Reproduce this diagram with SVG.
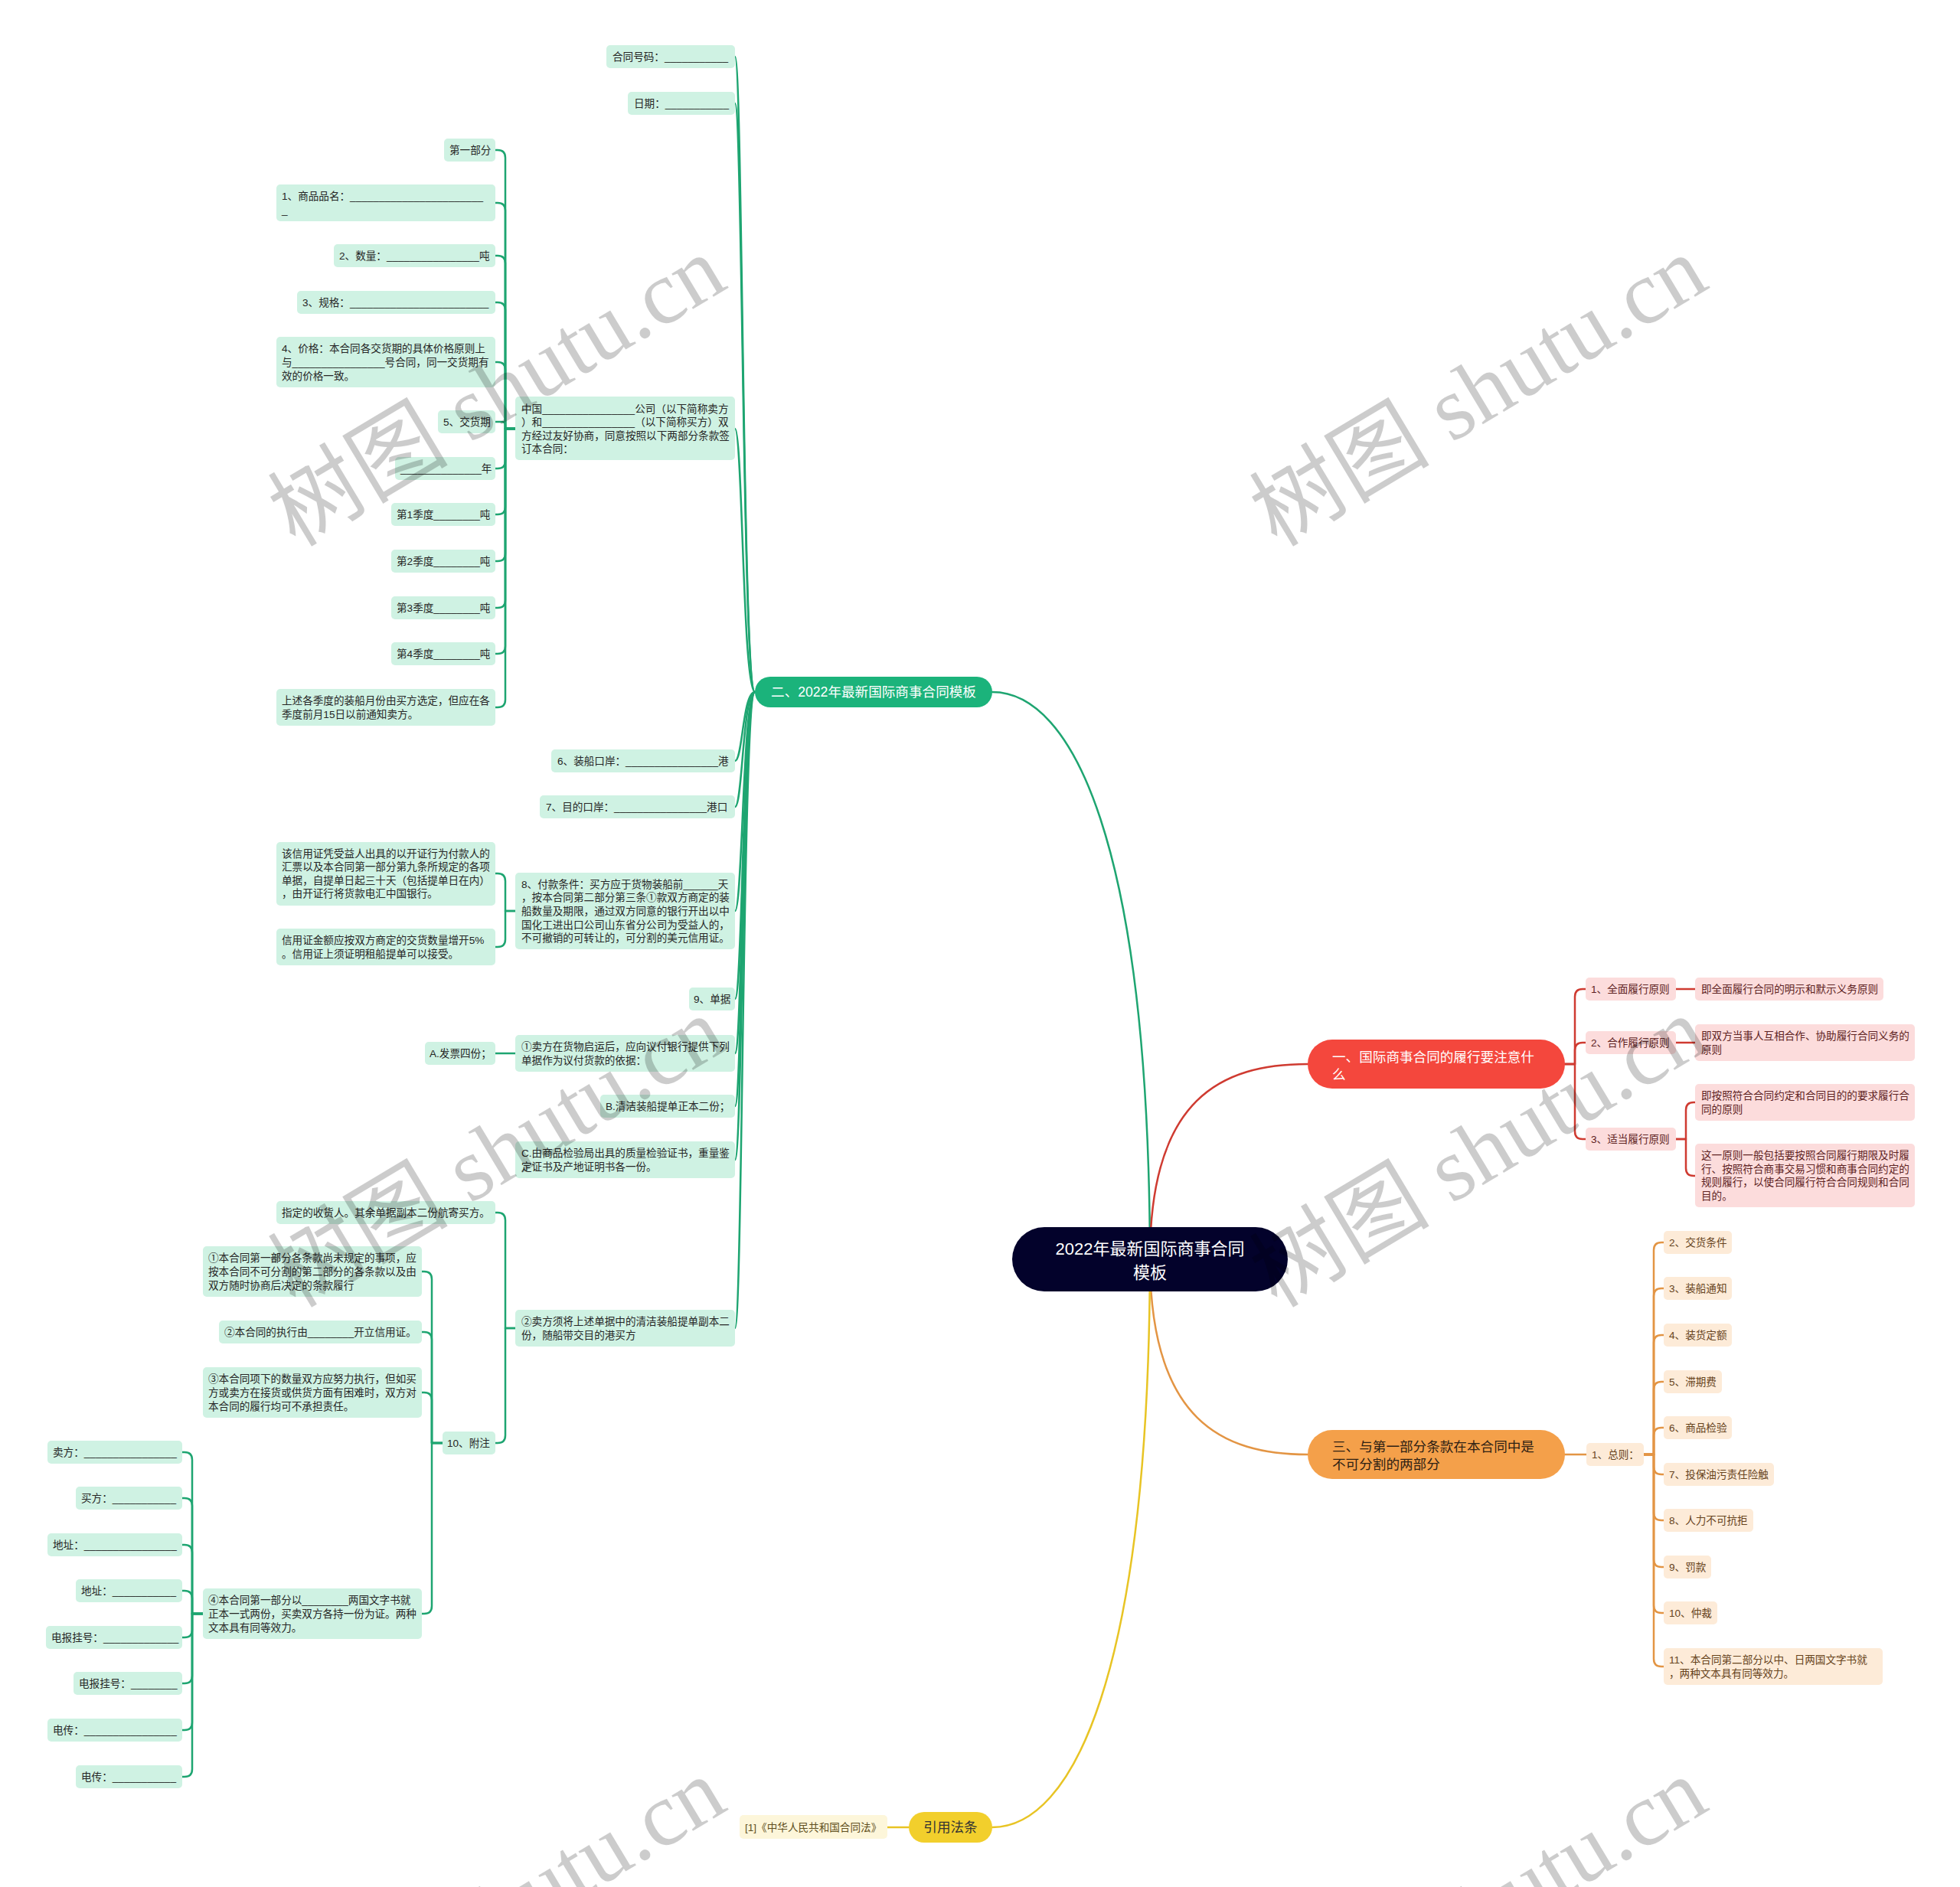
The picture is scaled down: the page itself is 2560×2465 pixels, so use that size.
<svg xmlns="http://www.w3.org/2000/svg" width="2560" height="2465" viewBox="0 0 2560 2465">
<style>
text{font-family:"Liberation Sans","Noto Sans CJK SC",sans-serif;font-size:13.6px}
.gn rect{fill:#cff2e3}
.gn text{fill:#262626}
.rn rect{fill:#fcdcdc}
.rn text{fill:#5e2323}
.on rect{fill:#fdebd8}
.on text{fill:#66431c}
.yn rect{fill:#fdf6da}
.yn text{fill:#5f4f20}
.main text{font-size:17.6px}
#connectors path{fill:none;stroke-linecap:round;stroke-linejoin:round}
.cg{stroke:#1ea571;stroke-width:2.5}
.cr{stroke:#cf3b31;stroke-width:2.5}
.co{stroke:#e39544;stroke-width:2.5}
.cy{stroke:#e8c424;stroke-width:2.5}
.wm{font-family:"Liberation Serif","Noto Sans CJK SC",serif;font-size:118px;fill:#000;fill-opacity:0.2}
</style>
<rect width="2560" height="2465" fill="#ffffff"/>

<g id="connectors">
<path class="cg" d="M1296 904C1400 904 1500 1100 1502 1640" stroke-width="2"/>
<path class="cr" d="M1708 1390C1595 1390 1503 1435 1502 1640" stroke-width="2"/>
<path class="co" d="M1502 1650C1504 1855 1596 1900 1708 1900" stroke-width="2"/>
<path class="cy" d="M1502 1650C1500 2190 1400 2387 1296 2387" stroke-width="2"/>
<path class="cy" d="M1187 2387H1159"/>
<path class="cg" d="M986 904C970 904 970 74 960 74"/>
<path class="cg" d="M986 904C970 904 970 135 960 135"/>
<path class="cg" d="M986 904C970 904 970 560 960 560"/>
<path class="cg" d="M986 904C970 904 970 994 960 994"/>
<path class="cg" d="M986 904C970 904 970 1054 960 1054"/>
<path class="cg" d="M986 904C970 904 970 1190 960 1190"/>
<path class="cg" d="M986 904C970 904 970 1305 960 1305"/>
<path class="cg" d="M986 904C970 904 970 1376 960 1376"/>
<path class="cg" d="M986 904C970 904 970 1445 960 1445"/>
<path class="cg" d="M986 904C970 904 970 1515 960 1515"/>
<path class="cg" d="M986 904C970 904 970 1735 960 1735"/>
<path class="cg" d="M673 560H660V206Q660 196 650 196H647"/>
<path class="cg" d="M673 560H660V275Q660 265 650 265H647"/>
<path class="cg" d="M673 560H660V344Q660 334 650 334H647"/>
<path class="cg" d="M673 560H660V405Q660 395 650 395H647"/>
<path class="cg" d="M673 560H660V483Q660 473 650 473H647"/>
<path class="cg" d="M673 560H660V555.5Q660 551 655.5 551H647"/>
<path class="cg" d="M673 560H660V602Q660 612 650 612H647"/>
<path class="cg" d="M673 560H660V662Q660 672 650 672H647"/>
<path class="cg" d="M673 560H660V723Q660 733 650 733H647"/>
<path class="cg" d="M673 560H660V784Q660 794 650 794H647"/>
<path class="cg" d="M673 560H660V844Q660 854 650 854H647"/>
<path class="cg" d="M673 560H660V914Q660 924 650 924H647"/>
<path class="cg" d="M673 1190H660V1151Q660 1141 650 1141H647"/>
<path class="cg" d="M673 1190H660V1227Q660 1237 650 1237H647"/>
<path class="cg" d="M673 1376H647"/>
<path class="cg" d="M673 1735H660V1594Q660 1584 650 1584H647"/>
<path class="cg" d="M673 1735H660V1875Q660 1885 650 1885H647"/>
<path class="cg" d="M578 1885H564V1671Q564 1661 554 1661H551"/>
<path class="cg" d="M578 1885H564V1750Q564 1740 554 1740H551"/>
<path class="cg" d="M578 1885H564V1829Q564 1819 554 1819H551"/>
<path class="cg" d="M578 1885H564V2098Q564 2108 554 2108H551"/>
<path class="cg" d="M265 2108H251V1907Q251 1897 241 1897H238"/>
<path class="cg" d="M265 2108H251V1967Q251 1957 241 1957H238"/>
<path class="cg" d="M265 2108H251V2028Q251 2018 241 2018H238"/>
<path class="cg" d="M265 2108H251V2088Q251 2078 241 2078H238"/>
<path class="cg" d="M265 2108H251V2129Q251 2139 241 2139H238"/>
<path class="cg" d="M265 2108H251V2189Q251 2199 241 2199H238"/>
<path class="cg" d="M265 2108H251V2250Q251 2260 241 2260H238"/>
<path class="cg" d="M265 2108H251V2311Q251 2321 241 2321H238"/>
<path class="cr" d="M2044 1390H2057V1302Q2057 1292 2067 1292H2071"/>
<path class="cr" d="M2044 1390H2057V1372Q2057 1362 2067 1362H2071"/>
<path class="cr" d="M2044 1390H2057V1478Q2057 1488 2067 1488H2071"/>
<path class="cr" d="M2189 1292H2214"/>
<path class="cr" d="M2189 1362H2214"/>
<path class="cr" d="M2189 1488H2202V1450Q2202 1440 2212 1440H2214"/>
<path class="cr" d="M2189 1488H2202V1526Q2202 1536 2212 1536H2214"/>
<path class="co" d="M2044 1900H2072"/>
<path class="co" d="M2147 1900H2160V1633Q2160 1623 2170 1623H2173"/>
<path class="co" d="M2147 1900H2160V1693Q2160 1683 2170 1683H2173"/>
<path class="co" d="M2147 1900H2160V1754Q2160 1744 2170 1744H2173"/>
<path class="co" d="M2147 1900H2160V1815Q2160 1805 2170 1805H2173"/>
<path class="co" d="M2147 1900H2160V1875Q2160 1865 2170 1865H2173"/>
<path class="co" d="M2147 1900H2160V1916Q2160 1926 2170 1926H2173"/>
<path class="co" d="M2147 1900H2160V1976Q2160 1986 2170 1986H2173"/>
<path class="co" d="M2147 1900H2160V2037Q2160 2047 2170 2047H2173"/>
<path class="co" d="M2147 1900H2160V2097Q2160 2107 2170 2107H2173"/>
<path class="co" d="M2147 1900H2160V2167Q2160 2177 2170 2177H2173"/>
</g>

<g id="root"><rect x="1322" y="1603" width="360" height="84" rx="42" fill="#03022b"/><text x="1502" y="1639" text-anchor="middle" fill="#ffffff" style="font-size:22px">2022年最新国际商事合同<tspan x="1502" y="1670">模板</tspan></text></g>

<g id="main-green" class="main"><rect x="986" y="884" width="310" height="40" rx="20" fill="#1bb37b"/><text x="1141" y="910" text-anchor="middle" fill="#ffffff">二、2022年最新国际商事合同模板</text></g>
<g id="main-red" class="main"><rect x="1708" y="1358" width="336" height="64" rx="32" fill="#f4473d"/><text x="1740" y="1386.5" fill="#ffffff">一、国际商事合同的履行要注意什<tspan x="1740" y="1409.5">么</tspan></text></g>
<g id="main-orange" class="main"><rect x="1708" y="1868" width="336" height="64" rx="32" fill="#f4a04a"/><text x="1740" y="1895.5" fill="#2e2114">三、与第一部分条款在本合同中是<tspan x="1740" y="1918.5">不可分割的两部分</tspan></text></g>
<g id="main-yellow" class="main"><rect x="1187" y="2367" width="109" height="40" rx="20" fill="#f2cf2c"/><text x="1241.5" y="2393" text-anchor="middle" fill="#333333">引用法条</text></g>
<g id="y1" class="yn"><rect x="966" y="2371" width="193" height="31" rx="5"/><text x="973" y="2392">[1]《中华人民共和国合同法》</text></g>

<g id="g1" class="gn"><rect x="792" y="59" width="168" height="30" rx="5"/><text x="800" y="79">合同号码：___________</text></g>
<g id="g2" class="gn"><rect x="820" y="120" width="140" height="30" rx="5"/><text x="828" y="140">日期：___________</text></g>
<g id="g3" class="gn"><rect x="673" y="518" width="287" height="83" rx="5"/><text x="681" y="538.6">中国________________公司（以下简称卖方<tspan x="681" y="556.2">）和________________（以下简称买方）双</tspan><tspan x="681" y="573.8">方经过友好协商，同意按照以下两部分条款签</tspan><tspan x="681" y="591.4">订本合同：</tspan></text></g>
<g id="g4" class="gn"><rect x="720" y="979" width="240" height="30" rx="5"/><text x="728" y="999">6、装船口岸：________________港</text></g>
<g id="g5" class="gn"><rect x="705" y="1039" width="255" height="30" rx="5"/><text x="713" y="1059">7、目的口岸：________________港口</text></g>
<g id="g6" class="gn"><rect x="673" y="1140" width="287" height="100" rx="5"/><text x="681" y="1159.8">8、付款条件：买方应于货物装船前______天<tspan x="681" y="1177.4">，按本合同第二部分第三条①款双方商定的装</tspan><tspan x="681" y="1195">船数量及期限，通过双方同意的银行开出以中</tspan><tspan x="681" y="1212.6">国化工进出口公司山东省分公司为受益人的，</tspan><tspan x="681" y="1230.2">不可撤销的可转让的，可分割的美元信用证。</tspan></text></g>
<g id="g7" class="gn"><rect x="900" y="1290" width="60" height="30" rx="5"/><text x="906" y="1310">9、单据</text></g>
<g id="g8" class="gn"><rect x="673" y="1352" width="287" height="48" rx="5"/><text x="681" y="1372.2">①卖方在货物启运后，应向议付银行提供下列<tspan x="681" y="1389.8">单据作为议付货款的依据：</tspan></text></g>
<g id="g9" class="gn"><rect x="784" y="1430" width="176" height="30" rx="5"/><text x="791" y="1450">B.清洁装船提单正本二份；</text></g>
<g id="g10" class="gn"><rect x="673" y="1491" width="287" height="48" rx="5"/><text x="681" y="1511.2">C.由商品检验局出具的质量检验证书，重量鉴<tspan x="681" y="1528.8">定证书及产地证明书各一份。</tspan></text></g>
<g id="g11" class="gn"><rect x="673" y="1711" width="287" height="48" rx="5"/><text x="681" y="1731.2">②卖方须将上述单据中的清洁装船提单副本二<tspan x="681" y="1748.8">份，随船带交目的港买方</tspan></text></g>

<g id="l1" class="gn"><rect x="580" y="181" width="67" height="30" rx="5"/><text x="587" y="201">第一部分</text></g>
<g id="l2" class="gn"><rect x="361" y="241" width="286" height="48" rx="5"/><text x="368" y="261.2">1、商品品名：_______________________<tspan x="368" y="278.8">_</tspan></text></g>
<g id="l3" class="gn"><rect x="436" y="319" width="211" height="30" rx="5"/><text x="443" y="339">2、数量：________________吨</text></g>
<g id="l4" class="gn"><rect x="388" y="380" width="259" height="30" rx="5"/><text x="395" y="400">3、规格：________________________</text></g>
<g id="l5" class="gn"><rect x="361" y="440" width="286" height="66" rx="5"/><text x="368" y="460.4">4、价格：本合同各交货期的具体价格原则上<tspan x="368" y="478">与________________号合同，同一交货期有</tspan><tspan x="368" y="495.6">效的价格一致。</tspan></text></g>
<g id="l6" class="gn"><rect x="572" y="536" width="75" height="30" rx="5"/><text x="579" y="556">5、交货期</text></g>
<g id="l7" class="gn"><rect x="516" y="597" width="131" height="30" rx="5"/><text x="523" y="617">______________年</text></g>
<g id="l8" class="gn"><rect x="511" y="657" width="136" height="30" rx="5"/><text x="518" y="677">第1季度________吨</text></g>
<g id="l9" class="gn"><rect x="511" y="718" width="136" height="30" rx="5"/><text x="518" y="738">第2季度________吨</text></g>
<g id="l10" class="gn"><rect x="511" y="779" width="136" height="30" rx="5"/><text x="518" y="799">第3季度________吨</text></g>
<g id="l11" class="gn"><rect x="511" y="839" width="136" height="30" rx="5"/><text x="518" y="859">第4季度________吨</text></g>
<g id="l12" class="gn"><rect x="361" y="900" width="286" height="48" rx="5"/><text x="368" y="920.2">上述各季度的装船月份由买方选定，但应在各<tspan x="368" y="937.8">季度前月15日以前通知卖方。</tspan></text></g>
<g id="l13" class="gn"><rect x="361" y="1100" width="286" height="83" rx="5"/><text x="368" y="1119.6">该信用证凭受益人出具的以开证行为付款人的<tspan x="368" y="1137.2">汇票以及本合同第一部分第九条所规定的各项</tspan><tspan x="368" y="1154.8">单据，自提单日起三十天（包括提单日在内）</tspan><tspan x="368" y="1172.4">，由开证行将货款电汇中国银行。</tspan></text></g>
<g id="l14" class="gn"><rect x="361" y="1213" width="286" height="48" rx="5"/><text x="368" y="1233.2">信用证金额应按双方商定的交货数量增开5%<tspan x="368" y="1250.8">。信用证上须证明租船提单可以接受。</tspan></text></g>
<g id="l15" class="gn"><rect x="555" y="1361" width="92" height="30" rx="5"/><text x="561" y="1381">A.发票四份；</text></g>
<g id="l16" class="gn"><rect x="361" y="1569" width="286" height="30" rx="5"/><text x="368" y="1589">指定的收货人。其余单据副本二份航寄买方。</text></g>
<g id="l17" class="gn"><rect x="578" y="1870" width="69" height="30" rx="5"/><text x="584" y="1890">10、附注</text></g>

<g id="m1" class="gn"><rect x="265" y="1628" width="286" height="66" rx="5"/><text x="272" y="1648.4">①本合同第一部分各条款尚未规定的事项，应<tspan x="272" y="1666">按本合同不可分割的第二部分的各条款以及由</tspan><tspan x="272" y="1683.6">双方随时协商后决定的条款履行</tspan></text></g>
<g id="m2" class="gn"><rect x="286" y="1725" width="265" height="30" rx="5"/><text x="293" y="1745">②本合同的执行由________开立信用证。</text></g>
<g id="m3" class="gn"><rect x="265" y="1786" width="286" height="66" rx="5"/><text x="272" y="1806.4">③本合同项下的数量双方应努力执行，但如买<tspan x="272" y="1824">方或卖方在接货或供货方面有困难时，双方对</tspan><tspan x="272" y="1841.6">本合同的履行均可不承担责任。</tspan></text></g>
<g id="m4" class="gn"><rect x="265" y="2075" width="286" height="66" rx="5"/><text x="272" y="2095.4">④本合同第一部分以________两国文字书就<tspan x="272" y="2113">正本一式两份，买卖双方各持一份为证。两种</tspan><tspan x="272" y="2130.6">文本具有同等效力。</tspan></text></g>

<g id="p1" class="gn"><rect x="62" y="1882" width="176" height="30" rx="5"/><text x="69" y="1902">卖方：________________</text></g>
<g id="p2" class="gn"><rect x="99" y="1942" width="139" height="30" rx="5"/><text x="106" y="1962">买方：___________</text></g>
<g id="p3" class="gn"><rect x="62" y="2003" width="176" height="30" rx="5"/><text x="69" y="2023">地址：________________</text></g>
<g id="p4" class="gn"><rect x="99" y="2063" width="139" height="30" rx="5"/><text x="106" y="2083">地址：___________</text></g>
<g id="p5" class="gn"><rect x="60" y="2124" width="178" height="30" rx="5"/><text x="67" y="2144">电报挂号：_____________</text></g>
<g id="p6" class="gn"><rect x="96" y="2184" width="142" height="30" rx="5"/><text x="103" y="2204">电报挂号：________</text></g>
<g id="p7" class="gn"><rect x="62" y="2245" width="176" height="30" rx="5"/><text x="69" y="2265">电传：________________</text></g>
<g id="p8" class="gn"><rect x="99" y="2306" width="139" height="30" rx="5"/><text x="106" y="2326">电传：___________</text></g>

<g id="r1" class="rn"><rect x="2071" y="1277" width="118" height="30" rx="5"/><text x="2078" y="1297">1、全面履行原则</text></g>
<g id="r1a" class="rn"><rect x="2214" y="1277" width="246" height="30" rx="5"/><text x="2222" y="1297">即全面履行合同的明示和默示义务原则</text></g>
<g id="r2" class="rn"><rect x="2071" y="1347" width="118" height="30" rx="5"/><text x="2078" y="1367">2、合作履行原则</text></g>
<g id="r2a" class="rn"><rect x="2214" y="1338" width="287" height="48" rx="5"/><text x="2222" y="1358.2">即双方当事人互相合作、协助履行合同义务的<tspan x="2222" y="1375.8">原则</tspan></text></g>
<g id="r3" class="rn"><rect x="2071" y="1473" width="118" height="30" rx="5"/><text x="2078" y="1493">3、适当履行原则</text></g>
<g id="r3a" class="rn"><rect x="2214" y="1416" width="287" height="48" rx="5"/><text x="2222" y="1436.2">即按照符合合同约定和合同目的的要求履行合<tspan x="2222" y="1453.8">同的原则</tspan></text></g>
<g id="r3b" class="rn"><rect x="2214" y="1494" width="287" height="83" rx="5"/><text x="2222" y="1514.1">这一原则一般包括要按照合同履行期限及时履<tspan x="2222" y="1531.7">行、按照符合商事交易习惯和商事合同约定的</tspan><tspan x="2222" y="1549.3">规则履行，以使合同履行符合合同规则和合同</tspan><tspan x="2222" y="1566.9">目的。</tspan></text></g>

<g id="o1" class="on"><rect x="2072" y="1885" width="75" height="30" rx="5"/><text x="2079" y="1905">1、总则：</text></g>
<g id="o2" class="on"><rect x="2173" y="1608" width="89" height="30" rx="5"/><text x="2180" y="1628">2、交货条件</text></g>
<g id="o3" class="on"><rect x="2173" y="1668" width="89" height="30" rx="5"/><text x="2180" y="1688">3、装船通知</text></g>
<g id="o4" class="on"><rect x="2173" y="1729" width="89" height="30" rx="5"/><text x="2180" y="1749">4、装货定额</text></g>
<g id="o5" class="on"><rect x="2173" y="1790" width="76" height="30" rx="5"/><text x="2180" y="1810">5、滞期费</text></g>
<g id="o6" class="on"><rect x="2173" y="1850" width="89" height="30" rx="5"/><text x="2180" y="1870">6、商品检验</text></g>
<g id="o7" class="on"><rect x="2173" y="1911" width="144" height="30" rx="5"/><text x="2180" y="1931">7、投保油污责任险触</text></g>
<g id="o8" class="on"><rect x="2173" y="1971" width="117" height="30" rx="5"/><text x="2180" y="1991">8、人力不可抗拒</text></g>
<g id="o9" class="on"><rect x="2173" y="2032" width="62" height="30" rx="5"/><text x="2180" y="2052">9、罚款</text></g>
<g id="o10" class="on"><rect x="2173" y="2092" width="70" height="30" rx="5"/><text x="2180" y="2112">10、仲裁</text></g>
<g id="o11" class="on"><rect x="2173" y="2153" width="286" height="48" rx="5"/><text x="2180" y="2173.2">11、本合同第二部分以中、日两国文字书就<tspan x="2180" y="2190.8">，两种文本具有同等效力。</tspan></text></g>

<g id="watermarks">
<text class="wm" text-anchor="middle" transform="translate(649 511) rotate(-31)" y="40">树图 shutu.cn</text>
<text class="wm" text-anchor="middle" transform="translate(1931 511) rotate(-31)" y="40">树图 shutu.cn</text>
<text class="wm" text-anchor="middle" transform="translate(649 1505) rotate(-31)" y="40">树图 shutu.cn</text>
<text class="wm" text-anchor="middle" transform="translate(1931 1505) rotate(-31)" y="40">树图 shutu.cn</text>
<text class="wm" text-anchor="middle" transform="translate(649 2499) rotate(-31)" y="40">树图 shutu.cn</text>
<text class="wm" text-anchor="middle" transform="translate(1931 2499) rotate(-31)" y="40">树图 shutu.cn</text>
</g>
</svg>
